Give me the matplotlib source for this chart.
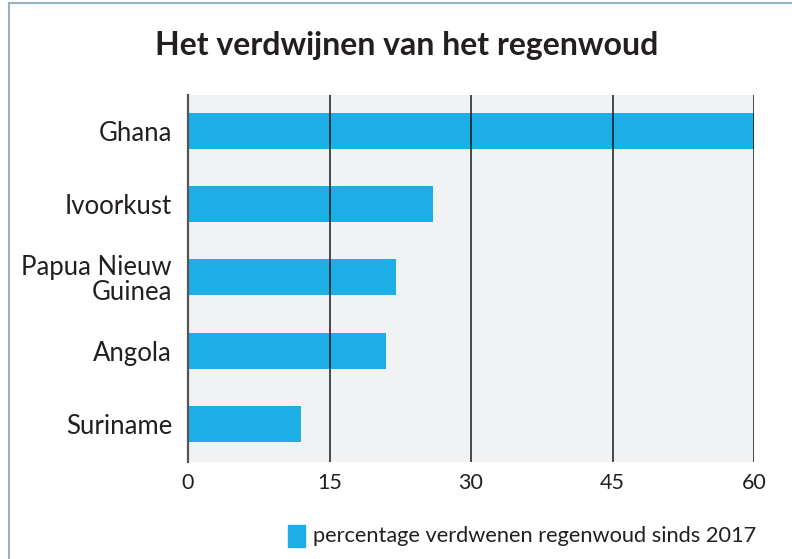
import matplotlib
matplotlib.use("Agg")
import matplotlib.pyplot as plt
from matplotlib.patches import Rectangle
from matplotlib.lines import Line2D

categories = ["Ghana", "Ivoorkust", "Papua Nieuw\nGuinea", "Angola", "Suriname"]
values = [60, 26, 22, 21, 12]
xticks = [0, 15, 30, 45, 60]
title = "Het verdwijnen van het regenwoud"
legend_label = "percentage verdwenen regenwoud sinds 2017"

FONT = "Lato"
TXT = "#231f20"
BAR = "#1caee4"
BG = "#f1f2f4"

plt.rcParams["font.family"] = [FONT, "DejaVu Sans"]

fig = plt.figure(figsize=(7.92, 5.59), dpi=100)
W, H = 792, 559
ax = fig.add_axes([188 / W, 1 - 462 / H, (754 - 188) / W, (462 - 95) / H])
ax.set_facecolor(BG)

ypos = list(range(len(categories)))
ax.barh(ypos, values, height=0.49, color=BAR, zorder=2)
ax.set_ylim(len(categories) - 1 + 0.52, -0.49)
ax.set_xlim(0, 60)

for x in xticks[1:]:
    ax.axvline(x, color="#1a1a1a", lw=1.1, zorder=3)

for s in ["top", "right", "bottom"]:
    ax.spines[s].set_visible(False)
ax.spines["left"].set_color("#555555")
ax.spines["left"].set_linewidth(1.6)
ax.spines["left"].set_zorder(4)

ax.set_yticks(ypos)
ax.set_yticklabels(categories, fontsize=18.5, color=TXT, linespacing=1.0)
ax.set_xticks(xticks)
ax.set_xticklabels([str(v) for v in xticks], fontsize=15.5, color=TXT)
ax.tick_params(axis="y", length=0, pad=11.5)
ax.tick_params(axis="x", length=0, pad=8)

fig.text(407 / W, 1 - 55 / H, title, ha="center", va="baseline",
         fontsize=23, fontweight="bold", color=TXT)

# legend
fig.patches.append(Rectangle((288 / W, 1 - 547 / H), 17 / W, 22 / H,
                             transform=fig.transFigure, color=BAR, figure=fig))
fig.text(313 / W, 1 - 542 / H, legend_label, ha="left", va="baseline",
         fontsize=15.7, color=TXT)

# frame border
border = "#8fb3c9"
fig.lines.append(Line2D([9 / W, 9 / W], [0, 1 - 3 / H], transform=fig.transFigure,
                        color=border, lw=1.5))
fig.lines.append(Line2D([9 / W, 1], [1 - 3 / H, 1 - 3 / H], transform=fig.transFigure,
                        color=border, lw=1.5))

fig.savefig("out.png", dpi=100, facecolor="white")
